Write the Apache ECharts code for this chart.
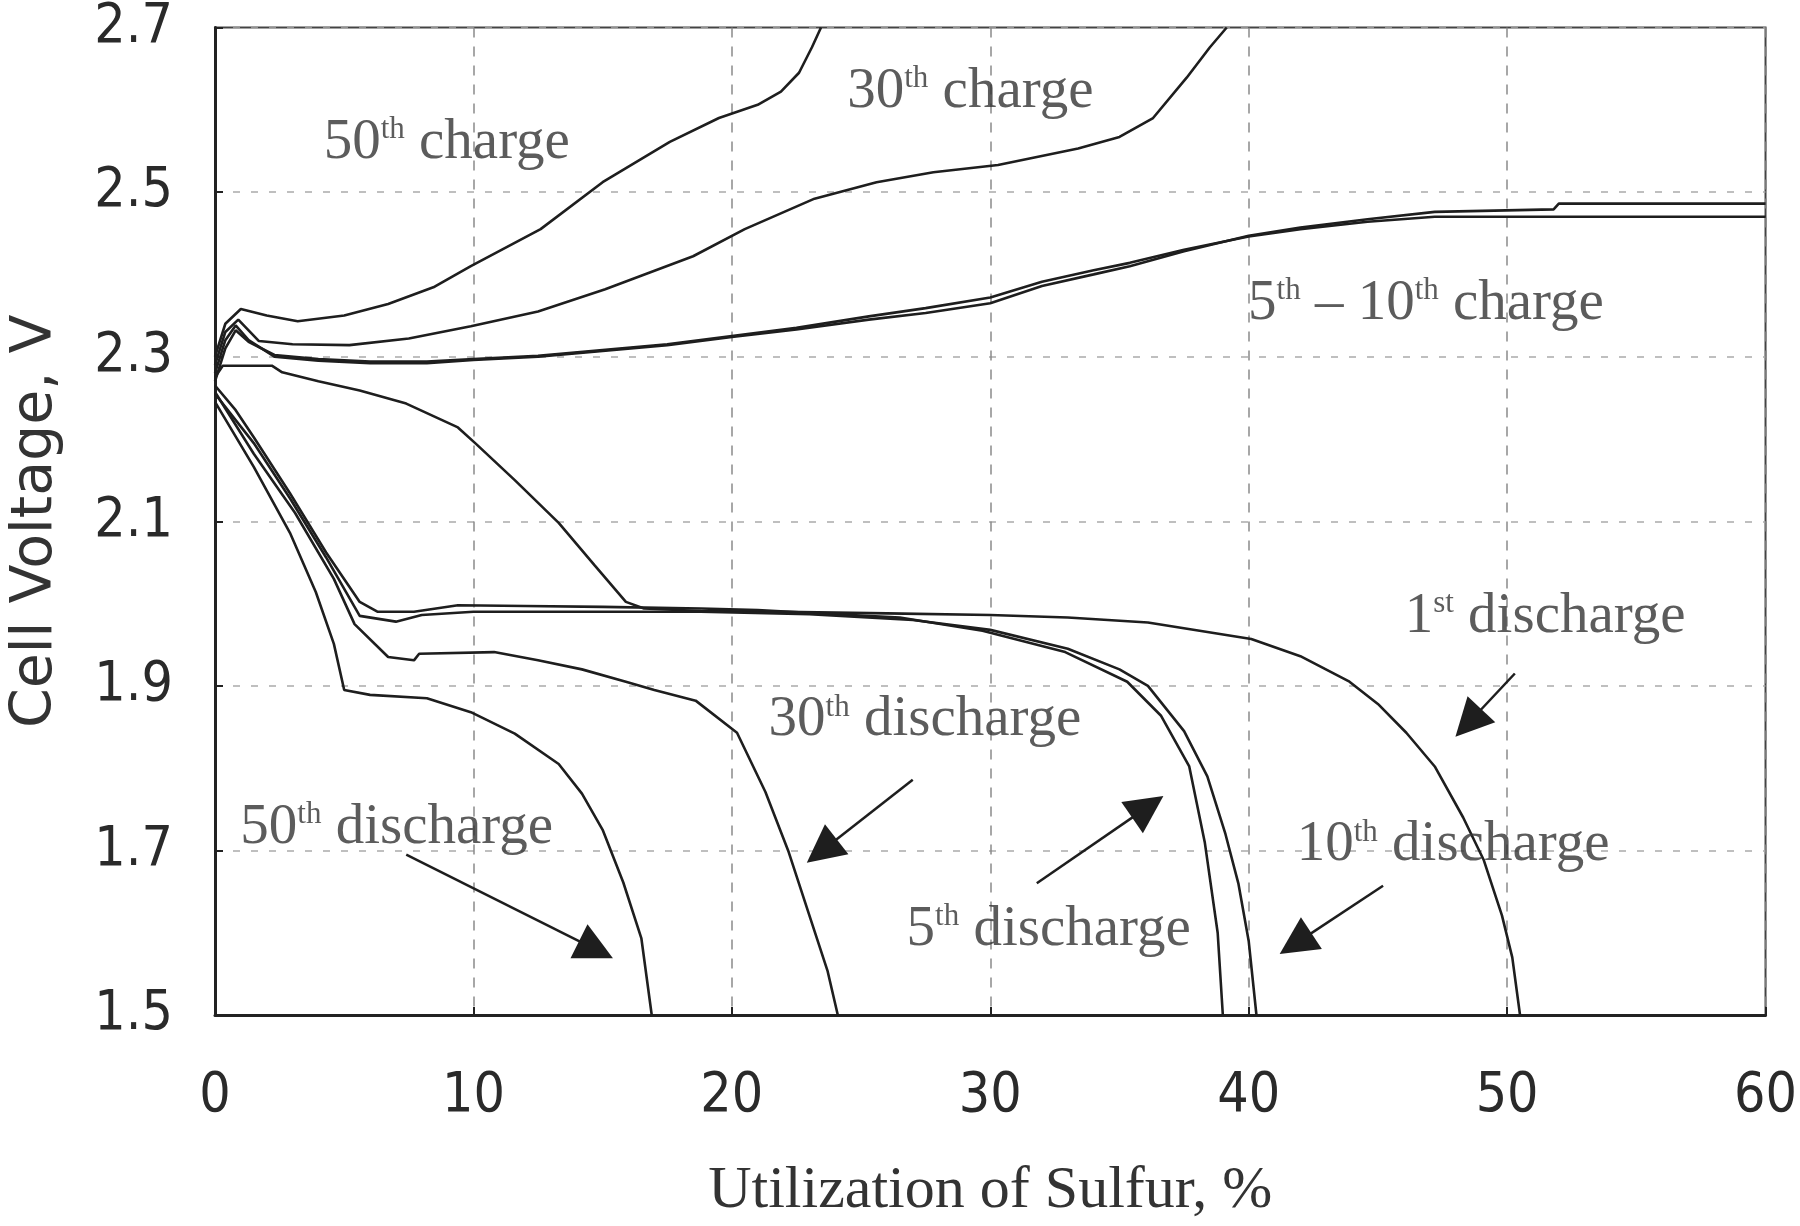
<!DOCTYPE html>
<html><head><meta charset="utf-8">
<script src="https://cdn.jsdelivr.net/npm/echarts@6/dist/echarts.min.js"></script>
<style>html,body{margin:0;padding:0;background:#fff}#chart{width:1800px;height:1226px}</style>
</head><body><div id="chart"></div>
<script>
// ---- data (x = utilization of sulfur %, y = cell voltage V) ----
const c50X = [0, 0.4, 1.0, 2.0, 3.2, 5.0, 6.7, 8.5, 9.9, 12.6, 15.0, 17.6, 19.5, 21.0, 21.9, 22.6, 23.1, 23.45];
const c50Y = [2.30, 2.34, 2.358, 2.350, 2.343, 2.350, 2.364, 2.385, 2.410, 2.455, 2.512, 2.561, 2.590, 2.606, 2.622, 2.645, 2.676, 2.700];

const c30X = [0, 0.4, 0.9, 1.7, 3.0, 5.2, 7.5, 9.9, 12.5, 15.1, 18.5, 20.5, 23.2, 25.6, 27.8, 30.3, 33.4, 35.0, 36.3, 37.6, 38.5, 39.15];
const c30Y = [2.29, 2.33, 2.345, 2.319, 2.315, 2.314, 2.322, 2.337, 2.355, 2.382, 2.422, 2.455, 2.492, 2.512, 2.524, 2.533, 2.553, 2.567, 2.590, 2.639, 2.676, 2.700];

const c5X = [0, 0.4, 0.8, 1.3, 2.3, 4.0, 6.0, 8.2, 10.0, 12.5, 15.0, 17.5, 20.0, 22.5, 25.3, 27.5, 30.0, 32.0, 34.0, 35.4, 37.5, 40.0, 42.0, 44.6, 47.2, 51.8, 52.0, 60.0];
const c5Y = [2.28, 2.32, 2.338, 2.320, 2.300, 2.295, 2.292, 2.292, 2.296, 2.300, 2.307, 2.314, 2.324, 2.333, 2.345, 2.353, 2.365, 2.386, 2.400, 2.410, 2.428, 2.447, 2.457, 2.467, 2.476, 2.479, 2.486, 2.486];

const c10X = [0, 0.4, 0.8, 1.3, 2.3, 4.0, 6.0, 8.2, 10.0, 12.5, 15.0, 17.5, 20.0, 22.5, 25.3, 27.5, 30.0, 32.0, 34.0, 35.4, 37.5, 40.0, 42.0, 44.6, 47.2, 52.0, 60.0];
const c10Y = [2.27, 2.31, 2.332, 2.318, 2.302, 2.297, 2.294, 2.294, 2.297, 2.301, 2.308, 2.315, 2.325, 2.335, 2.349, 2.359, 2.372, 2.391, 2.405, 2.414, 2.430, 2.446, 2.455, 2.464, 2.470, 2.470, 2.470];

const d1X = [0, 0.3, 2.2, 2.6, 4.0, 5.6, 7.4, 9.4, 10.1, 11.6, 13.3, 14.7, 15.9, 16.6, 18.8, 22.0, 26.0, 30.0, 33.0, 36.1, 38.1, 40.1, 42.0, 43.9, 45.0, 46.1, 47.2, 48.3, 49.1, 49.8, 50.2, 50.5];
const d1Y = [2.275, 2.289, 2.289, 2.281, 2.270, 2.259, 2.243, 2.214, 2.194, 2.150, 2.098, 2.046, 2.002, 1.994, 1.991, 1.990, 1.988, 1.986, 1.983, 1.977, 1.967, 1.957, 1.936, 1.905, 1.878, 1.843, 1.802, 1.740, 1.688, 1.621, 1.570, 1.500];

const d5X = [0, 0.8, 1.5, 2.9, 4.3, 5.6, 6.3, 7.7, 9.4, 12.0, 15.0, 18.8, 21.0, 23.3, 26.5, 29.7, 32.9, 35.3, 36.6, 37.7, 38.3, 38.8, 39.0];
const d5Y = [2.265, 2.235, 2.202, 2.134, 2.062, 2.002, 1.990, 1.990, 1.998, 1.997, 1.996, 1.994, 1.992, 1.988, 1.983, 1.967, 1.941, 1.905, 1.864, 1.802, 1.710, 1.600, 1.500];

const d10X = [0, 1.5, 2.9, 4.3, 5.6, 7.0, 8.0, 10.0, 14.0, 18.8, 23.0, 27.0, 30.0, 33.0, 35.0, 36.1, 37.5, 38.4, 39.1, 39.6, 40.0, 40.3];
const d10Y = [2.255, 2.195, 2.128, 2.056, 1.985, 1.978, 1.986, 1.990, 1.990, 1.990, 1.987, 1.980, 1.968, 1.945, 1.920, 1.900, 1.845, 1.790, 1.720, 1.660, 1.590, 1.500];

const d30X = [0, 1.5, 3.1, 4.6, 5.4, 6.7, 7.7, 7.9, 10.8, 12.5, 14.2, 15.9, 17.0, 18.6, 20.2, 21.3, 22.2, 23.0, 23.7, 24.1];
const d30Y = [2.257, 2.182, 2.110, 2.030, 1.975, 1.935, 1.931, 1.939, 1.941, 1.931, 1.920, 1.905, 1.895, 1.882, 1.843, 1.771, 1.698, 1.621, 1.554, 1.500];

const d50X = [0, 1.5, 2.9, 3.9, 4.6, 5.0, 6.0, 8.2, 9.9, 11.6, 13.3, 14.2, 15.0, 15.8, 16.5, 16.9];
const d50Y = [2.245, 2.166, 2.086, 2.014, 1.951, 1.895, 1.889, 1.885, 1.868, 1.842, 1.805, 1.769, 1.725, 1.661, 1.593, 1.500];

// annotation texts and their anchor points (data units)
const annoText = [
  '{n|50}{s|th}{n| charge}',
  '{n|30}{s|th}{n| charge}',
  '{n|5}{s|th}{n| – 10}{s|th}{n| charge}',
  '{n|1}{s|st}{n| discharge}',
  '{n|30}{s|th}{n| discharge}',
  '{n|50}{s|th}{n| discharge}',
  '{n|5}{s|th}{n| discharge}',
  '{n|10}{s|th}{n| discharge}'
];
const annoX = [8.97, 29.23, 46.86, 51.47, 27.47, 7.03, 32.26, 47.91];
const annoY = [2.560, 2.622, 2.364, 1.984, 1.858, 1.727, 1.603, 1.706];

// arrows: start -> tip
const arrowFromX = [7.4, 27.0, 31.8, 45.2, 50.3];
const arrowFromY = [1.695, 1.786, 1.660, 1.657, 1.915];
const arrowToX = [15.4, 22.9, 36.7, 41.2, 48.0];
const arrowToY = [1.569, 1.685, 1.766, 1.574, 1.838];

const xTicks = [0, 10, 20, 30, 40, 50, 60];

// ---- build ----
const zip = (xs, ys) => xs.map((x, i) => [x, ys[i]]);
const LINE = '#1e1e1e';
const curves = [
  ['50th charge', c50X, c50Y], ['30th charge', c30X, c30Y],
  ['5th charge', c5X, c5Y], ['10th charge', c10X, c10Y],
  ['1st discharge', d1X, d1Y], ['5th discharge', d5X, d5Y],
  ['10th discharge', d10X, d10Y], ['30th discharge', d30X, d30Y],
  ['50th discharge', d50X, d50Y]
];
const series = curves.map(([name, xs, ys]) => ({
  name, type: 'line', data: zip(xs, ys), showSymbol: false, smooth: false,
  lineStyle: { color: LINE, width: 2.6 }, silent: true, z: 3
}));

const numFont = "'DejaVu Sans Condensed', 'Liberation Sans Narrow', 'DejaVu Sans', sans-serif";
const serif = "'Liberation Serif', 'DejaVu Serif', serif";
const ARROW = 38;

series.push({
  name: 'annotations', type: 'scatter', symbolSize: 0, silent: true, z: 5,
  data: annoX.map((x, i) => ({ value: [x, annoY[i]], label: { formatter: annoText[i] } })),
  label: {
    show: true, position: 'inside', color: '#333',
    rich: {
      n: { fontSize: 57, fontFamily: serif, color: '#333' },
      s: { fontSize: 31, fontFamily: serif, color: '#333', verticalAlign: 'top' }
    }
  },
  markLine: {
    silent: true, animation: false,
    symbol: ['none', 'triangle'], symbolSize: ARROW,
    label: { show: false },
    itemStyle: { color: '#111' },
    lineStyle: { color: '#1e1e1e', width: 2.5, type: 'solid' },
    data: []
  }
});

const chart = echarts.init(document.getElementById('chart'), null, { renderer: 'canvas' });
chart.setOption({
  animation: false,
  backgroundColor: '#ffffff',
  grid: { left: 208, right: 29, top: 23, bottom: 204, show: true, borderColor: '#444', borderWidth: 2, containLabel: false },
  xAxis: {
    type: 'value', min: xTicks[0], max: xTicks[xTicks.length - 1], interval: 10,
    name: 'Utilization of Sulfur, %', nameLocation: 'middle', nameGap: 146,
    nameTextStyle: { fontSize: 60, fontFamily: serif, color: '#333' },
    axisLine: { lineStyle: { color: '#222', width: 3 } },
    axisTick: { inside: true, length: 8, lineStyle: { color: '#222', width: 2 } },
    axisLabel: { fontSize: 55, fontFamily: numFont, color: '#2a2a2a', margin: 54 },
    splitLine: { show: true, lineStyle: { color: '#8a8a8a', width: 1.5, type: [10, 9] } }
  },
  yAxis: {
    type: 'value', min: 1.5, max: 2.7, interval: 0.2,
    name: 'Cell Voltage, V', nameLocation: 'middle', nameGap: 150, nameRotate: 90,
    nameTextStyle: { fontSize: 57, fontFamily: "'DejaVu Sans', sans-serif", color: '#333' },
    axisLine: { lineStyle: { color: '#222', width: 3 } },
    axisTick: { inside: true, length: 8, lineStyle: { color: '#222', width: 2 } },
    axisLabel: { fontSize: 55, fontFamily: numFont, color: '#2a2a2a', margin: 42, formatter: v => v.toFixed(1) },
    splitLine: { show: true, lineStyle: { color: '#aaaaaa', width: 1.5, type: [7, 11] } }
  },
  series
});

// arrows: pull the end back so the triangle's tip sits on the target point
const arrowData = arrowFromX.map((x, i) => {
  const p0 = chart.convertToPixel({ gridIndex: 0 }, [x, arrowFromY[i]]);
  const p1 = chart.convertToPixel({ gridIndex: 0 }, [arrowToX[i], arrowToY[i]]);
  const dx = p1[0] - p0[0], dy = p1[1] - p0[1], len = Math.hypot(dx, dy);
  const back = ARROW * 0.5;
  const pe = [p1[0] - dx / len * back, p1[1] - dy / len * back];
  const end = chart.convertFromPixel({ gridIndex: 0 }, pe);
  return [{ coord: [x, arrowFromY[i]] }, { coord: end }];
});
chart.setOption({ series: [{}, {}, {}, {}, {}, {}, {}, {}, {}, { markLine: { data: arrowData } }] });
</script>
</body></html>
